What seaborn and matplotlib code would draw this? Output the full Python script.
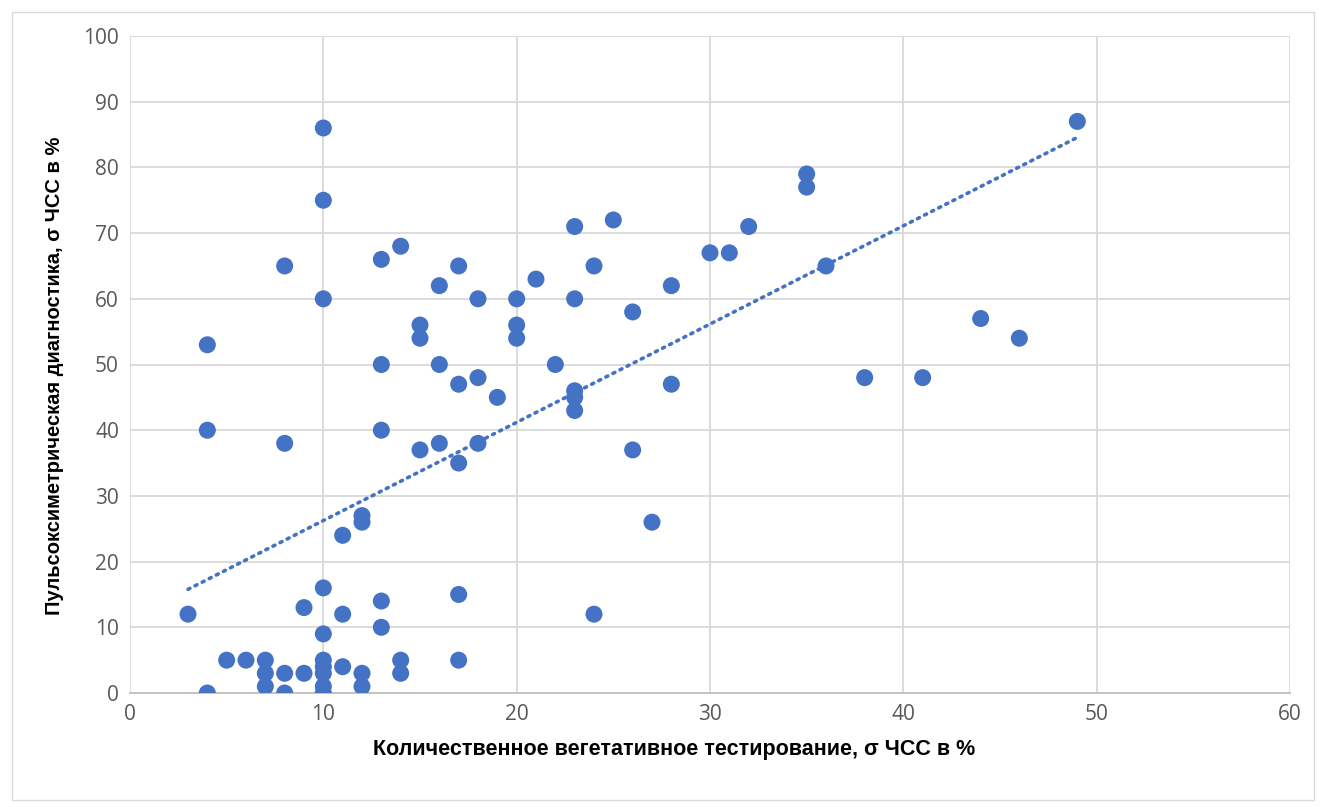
import matplotlib
matplotlib.use("Agg")
import matplotlib.pyplot as plt
import seaborn as sns
import pandas as pd
import numpy as np
from matplotlib.patches import Rectangle

x_vals = [3, 4, 4, 4, 5, 6, 7, 7, 7, 8, 8, 8, 8, 9, 9,
          10, 10, 10, 10, 10, 10, 10, 10, 10, 10,
          11, 11, 11, 12, 12, 12, 12, 13, 13, 13, 13, 13,
          14, 14, 14, 15, 15, 15, 16, 16, 16, 17, 17, 17, 17, 17,
          18, 18, 18, 19, 20, 20, 20, 21, 22, 23, 23, 23, 23, 23,
          24, 24, 25, 26, 26, 27, 28, 28, 30, 31, 32, 35, 35, 36,
          38, 41, 44, 46, 49]
y_vals = [12, 53, 40, 0, 5, 5, 5, 3, 1, 65, 38, 3, 0, 13, 3,
          86, 75, 60, 16, 9, 5, 4, 3, 1, 0,
          24, 12, 4, 27, 26, 3, 1, 66, 50, 40, 14, 10,
          68, 5, 3, 56, 54, 37, 62, 50, 38, 65, 47, 35, 15, 5,
          60, 48, 38, 45, 60, 56, 54, 63, 50, 71, 60, 46, 45, 43,
          65, 12, 72, 58, 37, 26, 62, 47, 67, 67, 71, 79, 77, 65,
          48, 48, 57, 54, 87]

x_label = "Количественное вегетативное тестирование, σ ЧСС в %"
y_label = "Пульсоксиметрическая диагностика, σ ЧСС в %"

df = pd.DataFrame({"x": x_vals, "y": y_vals})

sns.set_theme(style="white")
plt.rcParams['font.family'] = ['Open Sans', 'DejaVu Sans']

fig = plt.figure(figsize=(13.26, 8.07), dpi=100)
ax = fig.add_axes([130/1326, 1 - 693/807, 1160/1326, (693-36)/807])

blue = "#4472C4"
sns.regplot(data=df, x="x", y="y", scatter=False, ci=None, ax=ax,
            line_kws=dict(color=blue, linestyle=(0, (0.6, 1.6)), linewidth=2.6,
                          dash_capstyle="round"))
sns.scatterplot(data=df, x="x", y="y", ax=ax, s=150, color=blue,
                edgecolor="none", zorder=3)

ax.set_xlim(0, 60)
ax.set_ylim(0, 100)
ax.set_xticks(range(0, 61, 10))
ax.set_yticks(range(0, 101, 10))
ax.grid(True, color="#D9D9D9", linewidth=1.3)
ax.set_axisbelow(True)
for s in ["top", "right", "left"]:
    ax.spines[s].set_visible(False)
ax.spines["bottom"].set_color("#BFBFBF")
ax.spines["bottom"].set_linewidth(1.3)
ax.tick_params(axis="both", length=0, labelsize=15, colors="#595959", pad=8)

lab_font = ['Liberation Sans', 'DejaVu Sans']
ax.set_xlabel(x_label, fontsize=15.5, fontweight="bold", color="black",
              family=lab_font, labelpad=10)
ax.set_ylabel(y_label, fontsize=14.5, fontweight="bold", color="black",
              family=lab_font, labelpad=14)
ax.xaxis.label.set_x((674 - 130) / 1160)
ax.yaxis.label.set_y((693 - 376) / 657)

fig.patches.append(Rectangle((12/1326, 1 - 800/807), 1302/1326, 788/807,
                             transform=fig.transFigure, fill=False,
                             edgecolor="#D9D9D9", linewidth=1.0))

fig.savefig("out.png", dpi=100)
